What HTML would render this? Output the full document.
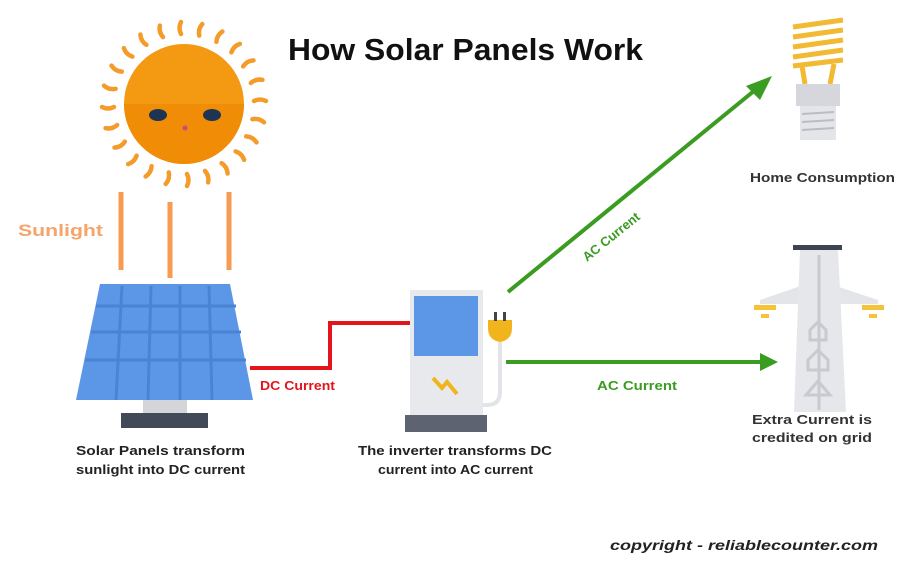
<!DOCTYPE html>
<html><head><meta charset="utf-8"><style>
html,body{margin:0;padding:0;background:#fff;}
svg{display:block;}
text{font-family:"Liberation Sans",sans-serif;}
</style></head><body>
<svg width="900" height="566" viewBox="0 0 900 566" xmlns="http://www.w3.org/2000/svg">
<rect width="900" height="566" fill="#fff"/>
<g transform="translate(184,104)" stroke="#f39c2b" stroke-width="4.5" fill="none" stroke-linecap="round">
<path d="M-3 -82 q-3 6 0 12" transform="rotate(0)"/>
<path d="M-3 -82 q-3 6 0 12" transform="rotate(15)"/>
<path d="M-3 -82 q-3 6 0 12" transform="rotate(30)"/>
<path d="M-3 -82 q-3 6 0 12" transform="rotate(45)"/>
<path d="M-3 -82 q-3 6 0 12" transform="rotate(60)"/>
<path d="M-3 -82 q-3 6 0 12" transform="rotate(75)"/>
<path d="M-3 -82 q-3 6 0 12" transform="rotate(90)"/>
<path d="M-3 -82 q-3 6 0 12" transform="rotate(105)"/>
<path d="M-3 -82 q-3 6 0 12" transform="rotate(120)"/>
<path d="M-3 -82 q-3 6 0 12" transform="rotate(135)"/>
<path d="M-3 -82 q-3 6 0 12" transform="rotate(150)"/>
<path d="M-3 -82 q-3 6 0 12" transform="rotate(165)"/>
<path d="M-3 -82 q-3 6 0 12" transform="rotate(180)"/>
<path d="M-3 -82 q-3 6 0 12" transform="rotate(195)"/>
<path d="M-3 -82 q-3 6 0 12" transform="rotate(210)"/>
<path d="M-3 -82 q-3 6 0 12" transform="rotate(225)"/>
<path d="M-3 -82 q-3 6 0 12" transform="rotate(240)"/>
<path d="M-3 -82 q-3 6 0 12" transform="rotate(255)"/>
<path d="M-3 -82 q-3 6 0 12" transform="rotate(270)"/>
<path d="M-3 -82 q-3 6 0 12" transform="rotate(285)"/>
<path d="M-3 -82 q-3 6 0 12" transform="rotate(300)"/>
<path d="M-3 -82 q-3 6 0 12" transform="rotate(315)"/>
<path d="M-3 -82 q-3 6 0 12" transform="rotate(330)"/>
<path d="M-3 -82 q-3 6 0 12" transform="rotate(345)"/>
</g>
<circle cx="184" cy="104" r="60" fill="#f39a12"/>
<path d="M124 104 a60 60 0 0 0 120 0 z" fill="#f08c05"/>
<ellipse cx="158" cy="115" rx="9" ry="6" fill="#1d3553"/>
<ellipse cx="212" cy="115" rx="9" ry="6" fill="#1d3553"/>
<circle cx="185" cy="128" r="2.5" fill="#d8457a"/>
<g stroke="#f79a52" stroke-width="5">
<line x1="121" y1="192" x2="121" y2="270"/>
<line x1="170" y1="202" x2="170" y2="278"/>
<line x1="229" y1="192" x2="229" y2="270"/>
</g>
<text x="18" y="236" font-size="17" font-weight="bold" fill="#f5a46a" textLength="85" lengthAdjust="spacingAndGlyphs">Sunlight</text>
<text x="288" y="60" font-size="31" font-weight="bold" fill="#111" textLength="355" lengthAdjust="spacingAndGlyphs">How Solar Panels Work</text>
<path d="M100 284 L230 284 L253 400 L76 400 Z" fill="#5b97e6"/>
<g stroke="#4a83d3" stroke-width="3">
<line x1="122" y1="286" x2="116" y2="400"/>
<line x1="151" y1="286" x2="148" y2="400"/>
<line x1="180" y1="286" x2="180" y2="400"/>
<line x1="209" y1="286" x2="212" y2="400"/>
<line x1="96" y1="306" x2="236" y2="306"/>
<line x1="91" y1="332" x2="241" y2="332"/>
<line x1="85" y1="360" x2="246" y2="360"/>
</g>
<rect x="143" y="400" width="44" height="14" fill="#d3d5d9"/>
<rect x="121" y="413" width="87" height="15" fill="#434a57"/>
<polyline points="250,368 330,368 330,323 413,323" fill="none" stroke="#e5141c" stroke-width="4"/>
<text x="260" y="390" font-size="13" font-weight="bold" fill="#e5141c" textLength="75" lengthAdjust="spacingAndGlyphs">DC Current</text>
<rect x="410" y="290" width="73" height="126" fill="#e8e9ec"/>
<rect x="414" y="296" width="64" height="60" fill="#5b97e6"/>
<polyline points="433,378 442,388 447,382 457,394" fill="none" stroke="#f2b41c" stroke-width="4"/>
<rect x="405" y="415" width="82" height="17" fill="#5d6370"/>
<path d="M500 342 L500 392 Q500 405 487 405 L483 405" fill="none" stroke="#e2e4e8" stroke-width="4"/>
<path d="M488 320 h24 v8 q0 12 -12 14 q-12 -2 -12 -14 z" fill="#f2b41c"/>
<rect x="494" y="312" width="3" height="9" fill="#444"/>
<rect x="503" y="312" width="3" height="9" fill="#444"/>
<g stroke="#3b9c22" stroke-width="4" fill="#3b9c22">
<line x1="508" y1="292" x2="760" y2="86"/>
<line x1="506" y1="362" x2="765" y2="362"/>
</g>
<polygon points="772,76 746,86 760,100" fill="#3b9c22"/>
<polygon points="778,362 760,353 760,371" fill="#3b9c22"/>
<text transform="translate(587,262) rotate(-39)" font-size="13" font-weight="bold" fill="#3b9c22">AC Current</text>
<text x="597" y="390" font-size="13" font-weight="bold" fill="#3b9c22" textLength="80" lengthAdjust="spacingAndGlyphs">AC Current</text>
<g stroke="#f2b933" stroke-width="5">
<line x1="793" y1="27" x2="843" y2="20"/>
<line x1="793" y1="37" x2="843" y2="30"/>
<line x1="793" y1="47" x2="843" y2="40"/>
<line x1="793" y1="57" x2="843" y2="50"/>
<line x1="793" y1="66" x2="843" y2="60"/>
<line x1="802" y1="66" x2="805" y2="84"/>
<line x1="834" y1="64" x2="830" y2="84"/>
</g>
<rect x="796" y="84" width="44" height="22" fill="#d5d7dc"/>
<rect x="800" y="106" width="36" height="34" fill="#e3e5e8"/>
<g stroke="#b9bcc2" stroke-width="2"><line x1="802" y1="114" x2="834" y2="112"/><line x1="802" y1="122" x2="834" y2="120"/><line x1="802" y1="130" x2="834" y2="128"/></g>
<text x="750" y="182" font-size="13" font-weight="bold" fill="#333" textLength="145" lengthAdjust="spacingAndGlyphs">Home Consumption</text>
<path d="M760 300 L818 280 L878 300 L878 304 L760 304 Z" fill="#e3e5e8"/>
<path d="M800 250 L838 250 L846 412 L794 412 Z" fill="#e6e7ea"/>
<g stroke="#c8cacf" stroke-width="3" fill="none">
<line x1="819" y1="255" x2="819" y2="410"/>
<path d="M810 330 l8 -8 l8 8 v10 h-16 z"/>
<path d="M808 360 l10 -10 l10 10 v10 h-20 z"/>
<path d="M806 395 l12 -14 l12 14 z"/>
</g>
<rect x="793" y="245" width="49" height="5" fill="#3e4450"/>
<g fill="#f5c33a"><rect x="754" y="305" width="22" height="5"/><rect x="761" y="314" width="8" height="4"/><rect x="862" y="305" width="22" height="5"/><rect x="869" y="314" width="8" height="4"/></g>
<text x="752" y="424" font-size="13" font-weight="bold" fill="#333" textLength="120" lengthAdjust="spacingAndGlyphs">Extra Current is</text>
<text x="752" y="442" font-size="13" font-weight="bold" fill="#333" textLength="120" lengthAdjust="spacingAndGlyphs">credited on grid</text>
<text x="76" y="455" font-size="13" font-weight="bold" fill="#222" textLength="169" lengthAdjust="spacingAndGlyphs">Solar Panels transform</text>
<text x="76" y="474" font-size="13" font-weight="bold" fill="#222" textLength="169" lengthAdjust="spacingAndGlyphs">sunlight into DC current</text>
<text x="358" y="455" font-size="13" font-weight="bold" fill="#222" textLength="194" lengthAdjust="spacingAndGlyphs">The inverter transforms DC</text>
<text x="378" y="474" font-size="13" font-weight="bold" fill="#222" textLength="155" lengthAdjust="spacingAndGlyphs">current into AC current</text>
<text x="610" y="550" font-size="14" font-weight="bold" font-style="italic" fill="#222" textLength="268" lengthAdjust="spacingAndGlyphs">copyright - reliablecounter.com</text>
</svg>
</body></html>
